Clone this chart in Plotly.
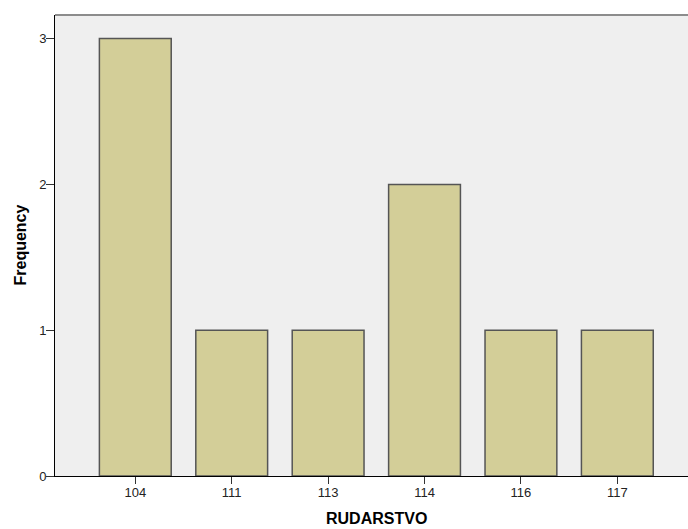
import plotly.graph_objects as go

categories = ["104", "111", "113", "114", "116", "117"]
frequency = [3, 1, 1, 2, 1, 1]
y_ticks = [0, 1, 2, 3]

fig = go.Figure()
fig.add_trace(go.Bar(
    x=categories,
    y=frequency,
    width=0.745,
    marker=dict(color="#D3CE98", line=dict(color="#555555", width=1.5)),
    hoverinfo="x+y",
))

font_family = "Arial, Liberation Sans, sans-serif"

fig.update_layout(
    width=688,
    height=529,
    margin=dict(l=55, r=0, t=15, b=53),
    paper_bgcolor="white",
    plot_bgcolor="#EFEFEF",
    showlegend=False,
    font=dict(family=font_family, size=13, color="#222222"),
    xaxis=dict(
        type="category",
        range=[-0.833, 5.733],
        showgrid=False,
        zeroline=False,
        showline=True,
        linecolor="black",
        linewidth=1,
        ticks="outside",
        ticklen=7,
        tickcolor="#333333",
        ticklabelstandoff=-3,
        tickfont=dict(size=13, family=font_family, color="#222222"),
    ),
    yaxis=dict(
        range=[0, 3.162],
        tickvals=y_ticks,
        showgrid=False,
        zeroline=False,
        showline=True,
        linecolor="black",
        linewidth=1,
        ticks="outside",
        ticklen=8,
        tickcolor="#333333",
        ticklabelstandoff=-3,
        tickfont=dict(size=13, family=font_family, color="#222222"),
    ),
    annotations=[
        dict(text="<b>Frequency</b>", xref="paper", yref="paper", x=0, y=0.5,
             xshift=-35, xanchor="center", yanchor="middle", textangle=-90,
             showarrow=False, font=dict(size=16, family=font_family, color="black")),
        dict(text="<b>RUDARSTVO</b>", xref="paper", yref="paper", x=0.508, y=0,
             yshift=-42, xanchor="center", yanchor="middle",
             showarrow=False, font=dict(size=16, family=font_family, color="black")),
    ],
    shapes=[
        dict(type="line", xref="paper", yref="paper", x0=0, x1=1, y0=1, y1=1,
             line=dict(color="#8C8C8C", width=2)),
    ],
)

fig.write_html(
    "out.html",
    config={"displayModeBar": False},
    post_script="document.body.style.margin='0';document.body.style.overflow='hidden';",
)
